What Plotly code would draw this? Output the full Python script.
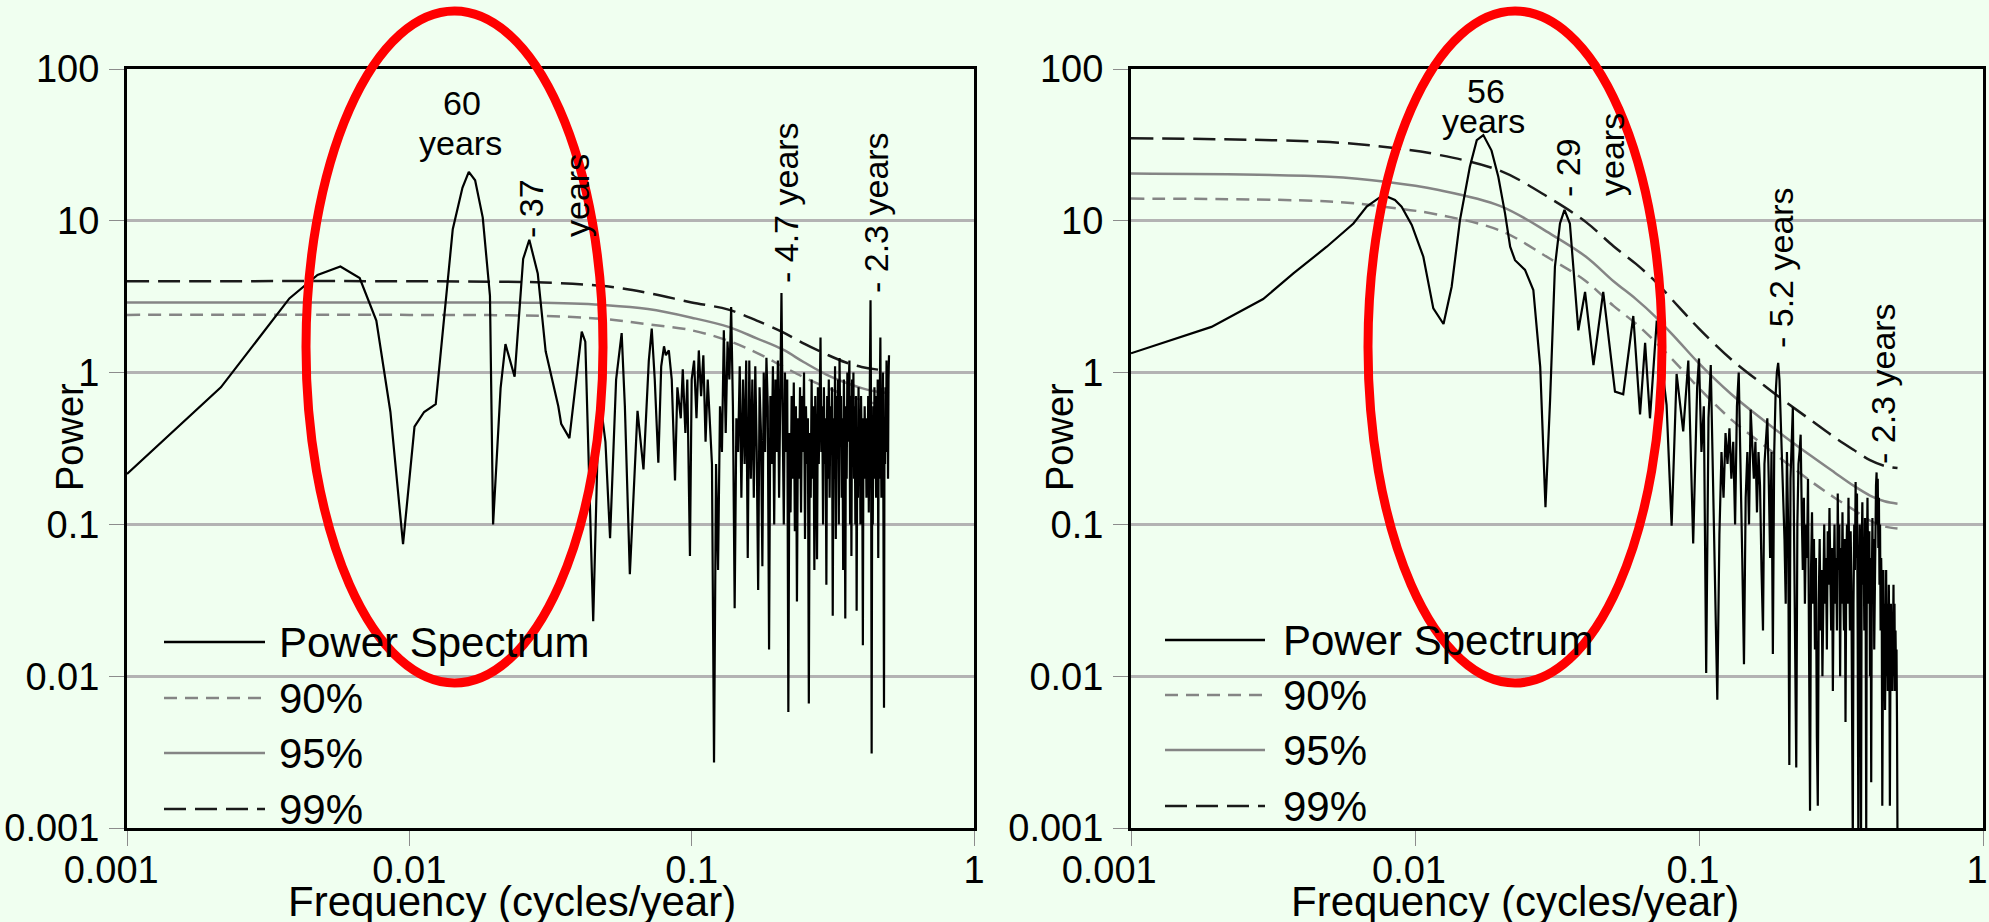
import numpy as np
import plotly.graph_objects as go

# ---------------- DATA ----------------
X_TICKS = [0.001, 0.01, 0.1, 1]
X_TICK_TEXT = ["0.001\u00a0\u00a0\u00a0", "0.01", "0.1", "1"]
Y_TICKS = [0.001, 0.01, 0.1, 1, 10, 100]
Y_TICK_TEXT = ["0.001", "0.01", "0.1", "1", "10", "100"]

# Left panel: low-frequency part of the power spectrum (vertices)
L_LF_FREQ = [0.001, 0.00215, 0.00376, 0.00473, 0.0057, 0.00667, 0.00764, 0.00857, 0.0095,
             0.01043, 0.01128, 0.0124, 0.01425, 0.01542, 0.01624, 0.0171, 0.0182, 0.0193,
             0.0198, 0.02105, 0.0219, 0.0236, 0.0253, 0.0266, 0.0285, 0.0304, 0.0337,
             0.0345, 0.0369, 0.0394, 0.0408, 0.042, 0.0448, 0.047, 0.0495, 0.0514, 0.054,
             0.0565, 0.058, 0.0604, 0.0643, 0.0675, 0.0705, 0.0722, 0.074, 0.0762, 0.078,
             0.0798, 0.081, 0.083, 0.085, 0.0873, 0.089, 0.0915, 0.093, 0.095, 0.0965, 0.0986]
L_LF_POW = [0.215, 0.8, 3.08, 4.4, 5.0, 4.2, 2.2, 0.55, 0.074,
            0.44, 0.55, 0.62, 8.8, 16.5, 21.0, 18.5, 10.5, 3.2,
            0.1, 0.79, 1.54, 0.94, 5.6, 7.5, 4.5, 1.38, 0.6,
            0.46, 0.37, 1.13, 1.86, 1.6, 0.023, 0.75, 0.35, 0.081, 0.9,
            1.82, 0.6, 0.047, 0.56, 0.23, 1.2, 1.95, 0.9, 0.255, 1.1,
            1.49, 1.3, 1.4, 0.9, 0.195, 0.8, 0.5, 1.05, 0.4, 0.9, 0.062]

# High-frequency part, on a 0.002 cycles/year grid starting at 0.100
HF_START = 0.100
HF_STEP = 0.002
L_HF_POW = [
    0.9, 1.2, 0.5, 1.4, 0.7, 1.3, 0.35, 0.9, 0.45, 0.25,
    0.0027, 0.25, 0.05, 0.6, 0.3, 1.9, 0.4, 1.6, 0.9, 2.7,
    0.6, 0.028, 0.5, 0.3, 1.1, 0.15, 0.9, 0.25, 1.2, 0.06,
    1.2, 0.2, 0.9, 0.15, 1.1, 0.3, 0.037, 0.8, 0.4, 0.053,
    1.0, 0.3, 1.25, 0.6, 0.015, 0.7, 0.25, 1.1, 0.1, 0.9,
    0.3, 1.2, 0.15, 0.8, 3.35, 0.5, 0.1, 1.0, 0.3, 0.9,
    0.0058, 0.4, 0.12, 0.7, 0.2, 0.86, 0.09, 0.6, 0.031, 0.5,
    0.2, 0.8, 0.12, 0.7, 0.3, 1.0, 0.08, 0.6, 0.25, 0.5,
    0.0066, 0.4, 0.15, 0.9, 0.2, 0.6, 0.05, 0.7, 0.3, 0.059,
    0.8, 0.25, 1.0, 1.7, 0.3, 0.6, 0.1, 0.8, 0.25, 0.5,
    0.04, 0.7, 0.2, 0.9, 0.15, 0.6, 0.3, 0.8, 0.025, 0.5,
    0.2, 1.1, 0.08, 0.7, 0.3, 0.9, 0.1, 1.25, 0.4, 0.7,
    0.15, 0.5, 0.05, 0.9, 0.3, 0.024, 0.6, 0.2, 1.0, 0.35,
    0.8, 1.2, 0.1, 0.7, 0.062, 0.9, 0.3, 1.0, 0.2, 0.6,
    0.1, 0.7, 0.027, 0.4, 0.15, 0.8, 0.3, 0.5, 0.1, 0.7,
    0.35, 0.2, 0.016, 0.5, 0.2, 0.6, 0.3, 0.4, 0.15, 0.5,
    0.25, 0.7, 0.12, 0.4, 0.6, 3.0, 0.5, 0.0031, 0.3, 0.1,
    0.6, 0.2, 0.8, 0.3, 0.5, 0.15, 0.7, 0.3, 0.9, 0.06,
    0.5, 0.2, 0.8, 1.7, 0.4, 0.15, 0.6, 0.3, 1.0, 0.1,
    0.0062, 0.5, 0.25, 0.8, 0.3, 1.2, 0.4, 0.7, 0.2, 0.9,
    1.3]

# Left significance levels
L_SIG_FREQ = [0.001, 0.01, 0.02, 0.03, 0.05, 0.07, 0.1, 0.135, 0.17, 0.21, 0.25, 0.3, 0.35, 0.4, 0.45, 0.5]
L_90 = [2.4, 2.4, 2.39, 2.36, 2.25, 2.08, 1.9, 1.62, 1.35, 1.1, 0.93, 0.8, 0.71, 0.66, 0.625, 0.61]
L_95 = [2.9, 2.9, 2.9, 2.88, 2.78, 2.62, 2.3, 2.0, 1.68, 1.42, 1.17, 0.97, 0.86, 0.79, 0.75, 0.73]
L_99 = [4.0, 4.0, 3.97, 3.92, 3.7, 3.35, 2.9, 2.6, 2.2, 1.85, 1.55, 1.32, 1.17, 1.09, 1.05, 1.03]

# Right panel: low-frequency vertices
R_LF_FREQ = [0.001, 0.00192, 0.00292, 0.00373, 0.00489, 0.00607, 0.00676, 0.00773, 0.0085,
             0.00897, 0.00974, 0.0107, 0.0116, 0.0126, 0.01346, 0.0144, 0.0156, 0.0165,
             0.0174, 0.0186, 0.01965, 0.02075, 0.02163, 0.0225, 0.0244, 0.0261, 0.0276,
             0.0288, 0.0299, 0.0311, 0.0324, 0.0336, 0.0351, 0.0366, 0.0376, 0.0397, 0.0425,
             0.046, 0.0506, 0.0541, 0.0587, 0.062, 0.0646, 0.0672, 0.071, 0.0769, 0.0801,
             0.0834, 0.088, 0.0917, 0.0954, 0.0985]
R_LF_POW = [1.34, 2.0, 3.05, 4.5, 6.75, 9.6, 12.4, 14.8, 13.7,
            12.4, 9.4, 5.8, 2.65, 2.09, 3.68, 10.1, 22.7, 34.0,
            36.7, 29.0, 19.5, 11.2, 6.76, 5.5, 4.75, 3.5, 1.09,
            0.13, 0.66, 5.0, 9.6, 11.8, 9.6, 3.7, 1.9, 3.4, 1.12,
            3.4, 0.75, 0.72, 2.36, 0.53, 1.57, 0.5, 2.2, 0.61, 0.098,
            0.98, 0.41, 1.2, 0.075, 0.8]

R_HF_POW = [
    1.24, 0.3, 0.6, 0.0105, 0.5, 1.12, 0.2, 0.03, 0.007, 0.085,
    0.3, 0.15, 0.4, 0.25, 0.43, 0.2, 0.35, 0.1, 0.6, 1.0,
    0.3, 0.06, 0.012, 0.15, 0.3, 0.1, 0.57, 0.3, 0.2, 0.35,
    0.12, 0.3, 0.18, 0.05, 0.02, 0.25, 0.4, 0.5, 0.2, 0.06,
    0.3, 0.014, 0.3, 0.7, 1.0, 1.16, 0.9, 0.5, 0.3, 0.15,
    0.08, 0.03, 0.3, 0.1, 0.0026, 0.2, 0.4, 0.59, 0.1, 0.02,
    0.0025, 0.1, 0.25, 0.3, 0.39, 0.12, 0.05, 0.15, 0.03, 0.1,
    0.06, 0.2, 0.008, 0.0013, 0.05, 0.12, 0.03, 0.08, 0.015, 0.06,
    0.004, 0.0014, 0.03, 0.08, 0.02, 0.05, 0.01, 0.04, 0.1, 0.03,
    0.06, 0.015, 0.09, 0.04, 0.128, 0.05, 0.02, 0.07, 0.008, 0.04,
    0.1, 0.03, 0.06, 0.02, 0.16, 0.05, 0.1, 0.01, 0.07, 0.03,
    0.12, 0.04, 0.02, 0.08, 0.005, 0.05, 0.1, 0.03, 0.15, 0.06,
    0.02, 0.09, 0.04, 0.005, 0.0008, 0.03, 0.1, 0.05, 0.19, 0.06,
    0.16, 0.02, 0.0008, 0.04, 0.1, 0.03, 0.0008, 0.07, 0.14, 0.04,
    0.08, 0.02, 0.11, 0.04, 0.0009, 0.06, 0.15, 0.05, 0.03, 0.09,
    0.01, 0.06, 0.002, 0.04, 0.11, 0.03, 0.08, 0.015, 0.05, 0.12,
    0.18, 0.22, 0.1, 0.2, 0.07, 0.15, 0.04, 0.1, 0.02, 0.06,
    0.03, 0.0014, 0.02, 0.05, 0.01, 0.03, 0.006, 0.02, 0.05, 0.01,
    0.03, 0.008, 0.02, 0.04, 0.015, 0.0014, 0.01, 0.03, 0.015, 0.025,
    0.008, 0.02, 0.04, 0.01, 0.03, 0.008, 0.02, 0.01, 0.015, 0.005,
    0.0008]

R_SIG_FREQ = [0.001, 0.005, 0.008, 0.012, 0.02, 0.03, 0.04, 0.05, 0.06, 0.07, 0.085, 0.1,
              0.13, 0.17, 0.2, 0.25, 0.3, 0.35, 0.4, 0.45, 0.5]
R_90 = [14.0, 13.4, 12.3, 11.0, 8.6, 5.6, 4.0, 2.75, 2.1, 1.6, 1.1, 0.79,
        0.49, 0.33, 0.26, 0.19, 0.15, 0.125, 0.106, 0.097, 0.094]
R_95 = [20.5, 19.5, 18.0, 16.0, 12.5, 8.2, 5.8, 4.0, 3.05, 2.35, 1.6, 1.15,
        0.72, 0.48, 0.38, 0.28, 0.22, 0.18, 0.155, 0.142, 0.137]
R_99 = [35.0, 33.0, 30.5, 27.3, 21.3, 14.0, 9.8, 6.8, 5.2, 4.0, 2.7, 1.95,
        1.22, 0.82, 0.65, 0.48, 0.375, 0.31, 0.265, 0.243, 0.235]

LEGEND_LABELS = ["Power Spectrum", "90%", "95%", "99%"]

# ---------------- LAYOUT GEOMETRY ----------------
W, H = 1989, 922
ML, MR, MT, MB = 127, 6, 69, 94
PW = W - ML - MR
PH = H - MT - MB


def px(x):
    return (x - ML) / PW


def py(y):
    return (H - MB - y) / PH


FONT = "Liberation Sans, Arial, Helvetica, sans-serif"
BG = "#F0FFF0"
GRAY = "#858585"
DARK = "#1a1a1a"
DASH_BLACK = "22px,9px"
DASH_GRAY = "13px,8px"


def hf_freq(vals):
    return [round(HF_START + HF_STEP * i, 4) for i in range(len(vals))]


fig = go.Figure()

panels = [
    ("x", "y", L_LF_FREQ + hf_freq(L_HF_POW), L_LF_POW + L_HF_POW, L_SIG_FREQ, L_90, L_95, L_99),
    ("x2", "y2", R_LF_FREQ + hf_freq(R_HF_POW), R_LF_POW + R_HF_POW, R_SIG_FREQ, R_90, R_95, R_99),
]
for xa, ya, fx, fy, sf, s90, s95, s99 in panels:
    fig.add_trace(go.Scatter(x=sf, y=s90, mode="lines", xaxis=xa, yaxis=ya, name="90%",
                             line=dict(color=GRAY, width=2.5, dash=DASH_GRAY, shape="spline")))
    fig.add_trace(go.Scatter(x=sf, y=s95, mode="lines", xaxis=xa, yaxis=ya, name="95%",
                             line=dict(color=GRAY, width=2.5, shape="spline")))
    fig.add_trace(go.Scatter(x=sf, y=s99, mode="lines", xaxis=xa, yaxis=ya, name="99%",
                             line=dict(color=DARK, width=2.5, dash=DASH_BLACK, shape="spline")))
    fig.add_trace(go.Scatter(x=fx, y=fy, mode="lines", xaxis=xa, yaxis=ya, name="Power Spectrum",
                             line=dict(color="black", width=2.2)))

axis_common = dict(
    type="log", ticks="outside", ticklen=15, tickwidth=1, tickcolor="#8c8c8c",
    showline=True, mirror=True, linecolor="black", linewidth=3, zeroline=False,
    tickfont=dict(size=38, family=FONT, color="black"), automargin=False,
)
xaxis_common = dict(axis_common, range=[-3, 0], tickvals=X_TICKS, ticktext=X_TICK_TEXT,
                    showgrid=False, ticklabelstandoff=-9, ticklabeloverflow="allow")
yaxis_common = dict(axis_common, range=[-3, 2], tickvals=Y_TICKS, ticktext=Y_TICK_TEXT,
                    showgrid=True, gridcolor="#b3b3b3", gridwidth=2.5, ticklabelstandoff=2)

left_dom = [0, px(974)]
right_dom = [px(1131), 1]

fig.update_layout(
    width=W, height=H, template="none",
    margin=dict(l=ML, r=MR, t=MT, b=MB, pad=0),
    paper_bgcolor=BG, plot_bgcolor=BG, showlegend=False,
    xaxis=dict(xaxis_common, domain=left_dom, anchor="y"),
    yaxis=dict(yaxis_common, domain=[0, 1], anchor="x"),
    xaxis2=dict(xaxis_common, domain=right_dom, anchor="y2", ticklabelshift=-6),
    yaxis2=dict(yaxis_common, domain=[0, 1], anchor="x2"),
)

annotations = []
shapes = []


def text(t, x, y, size=34, angle=0, xanchor="center"):
    annotations.append(dict(text=t, x=px(x), y=py(y), xref="paper", yref="paper",
                            showarrow=False, textangle=angle, xanchor=xanchor, yanchor="middle",
                            font=dict(size=size, family=FONT, color="black")))


# axis titles
text("Frequency (cycles/year)", 512, 901, size=42)
text("Frequency (cycles/year)", 1515, 901, size=42)
text("Power", 70, 437, size=38, angle=-90)
text("Power", 1060, 437, size=38, angle=-90)

# peak labels, left
text("60", 462, 103)
text("years", 460, 143)
text("- 37", 531, 209, angle=-90)
text("years", 577, 196, angle=-90)
text("- 4.7 years", 786, 203, angle=-90)
text("- 2.3 years", 876, 213, angle=-90)
# peak labels, right
text("56", 1486, 91)
text("years", 1483, 121)
text("- 29", 1568, 168, angle=-90)
text("years", 1612, 155, angle=-90)
text("- 5.2 years", 1781, 268, angle=-90)
text("- 2.3 years", 1883, 384, angle=-90)

# legends (drawn inside each panel)
legend_styles = [dict(color="black", width=2.5),
                 dict(color=GRAY, width=2.5, dash=DASH_GRAY),
                 dict(color=GRAY, width=2.5),
                 dict(color=DARK, width=2.5, dash=DASH_BLACK)]
for x0, x1, xt, rows in [(164, 265, 277, [642, 698, 753, 809]),
                          (1165, 1265, 1281, [640, 695, 750, 806])]:
    for lab, sty, yy in zip(LEGEND_LABELS, legend_styles, rows):
        shapes.append(dict(type="line", xref="paper", yref="paper", x0=px(x0), x1=px(x1),
                           y0=py(yy), y1=py(yy), line=sty, layer="above"))
        text(lab, xt, yy, size=42, xanchor="left")

# red ellipses
for cx0, cx1 in [(306, 603), (1368, 1662)]:
    shapes.append(dict(type="circle", xref="paper", yref="paper", x0=px(cx0), x1=px(cx1),
                       y0=py(683), y1=py(11), line=dict(color="#ff0000", width=9), layer="above"))

fig.update_layout(annotations=annotations, shapes=shapes)
fig.write_html("out.html", config={"displayModeBar": False},
               post_script="document.body.style.margin='0px';document.body.style.overflow='hidden';")
